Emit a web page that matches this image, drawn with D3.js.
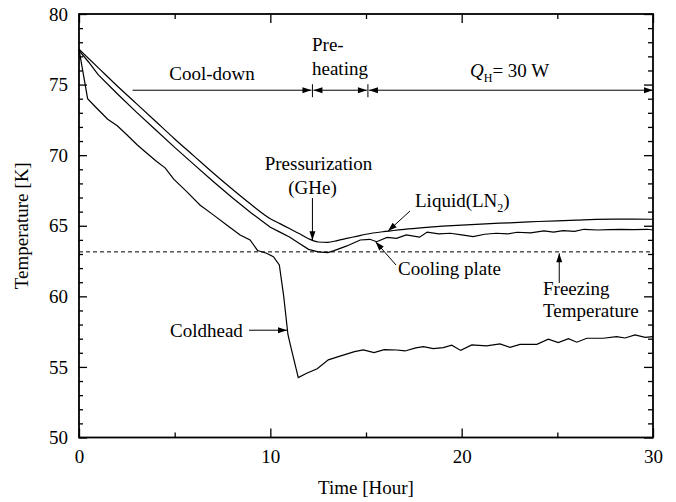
<!DOCTYPE html>
<html>
<head>
<meta charset="utf-8">
<script src="https://cdn.jsdelivr.net/npm/d3@7"></script>
<style>
  html, body { margin: 0; padding: 0; background: #fff; }
  svg text { font-family: "Liberation Serif", "DejaVu Serif", serif; font-size: 19px; fill: #000; }
</style>
</head>
<body>
<svg id="chart" width="676" height="502" font-family="Liberation Serif, DejaVu Serif, serif"></svg>
<script>
// Liquid nitrogen temperature (K) vs time (hours)
const liquidHours = [0, 1, 2, 3, 4, 5, 6, 7, 8, 9, 10, 10.5, 11, 11.5, 12, 12.5, 13, 13.5, 14, 14.5, 15, 16, 17, 18, 19, 20, 21, 22, 23, 24, 25, 26, 27, 28, 29, 30];
const liquidK = [77.5, 76.2, 74.9, 73.65, 72.4, 71.15, 69.95, 68.75, 67.6, 66.5, 65.5, 65.15, 64.8, 64.45, 64.08, 63.85, 63.82, 63.95, 64.1, 64.25, 64.4, 64.6, 64.75, 64.87, 64.97, 65.05, 65.12, 65.18, 65.24, 65.3, 65.35, 65.4, 65.45, 65.47, 65.47, 65.46];

// Cooling plate temperature
const plateHours = [0, 0.5, 1, 2, 3, 4, 5, 6, 7, 8, 9, 10, 10.5, 11, 11.5, 12, 12.5, 13, 13.3, 14, 14.7, 15.2, 15.56, 16.1, 16.6, 17.1, 17.8, 18.2, 18.8, 19.4, 20, 20.6, 21.2, 21.8, 22.4, 22.9, 23.6, 24.3, 24.8, 25.3, 25.9, 26.4, 27.1, 27.7, 28.3, 29, 29.7, 30];
const plateK = [77.4, 76.6, 75.7, 74.35, 73.05, 71.8, 70.55, 69.35, 68.15, 67.0, 65.9, 64.9, 64.55, 64.2, 63.76, 63.33, 63.15, 63.1, 63.22, 63.57, 63.99, 64.04, 63.87, 64.18, 64.11, 64.35, 64.19, 64.55, 64.42, 64.47, 64.35, 64.23, 64.4, 64.47, 64.42, 64.54, 64.5, 64.63, 64.55, 64.65, 64.6, 64.75, 64.7, 64.72, 64.75, 64.72, 64.75, 64.7];

// Coldhead temperature
const coldHours = [0, 0.45, 0.84, 1.5, 2.0, 2.5, 3.05, 3.58, 4.06, 4.5, 4.95, 5.63, 6.32, 7.02, 7.72, 8.42, 8.94, 9.33, 9.8, 10.16, 10.47, 10.7, 10.92, 11.03, 11.46, 11.9, 12.45, 13.03, 13.64, 14.4, 14.86, 15.42, 15.95, 16.6, 17.04, 17.6, 18.0, 18.52, 19.04, 19.48, 19.95, 20.53, 21.3, 22.0, 22.53, 23.05, 23.93, 24.53, 25.05, 25.58, 26.02, 26.54, 27.4, 28.1, 28.54, 29.06, 29.59, 30];
const coldK = [77.5, 74.0, 73.45, 72.55, 72.08, 71.45, 70.72, 70.1, 69.55, 69.1, 68.3, 67.42, 66.47, 65.77, 65.06, 64.35, 63.99, 63.25, 63.05, 62.81, 62.22, 60.0, 57.3, 56.65, 54.24, 54.55, 54.87, 55.5, 55.76, 56.08, 56.2, 56.01, 56.22, 56.2, 56.13, 56.35, 56.44, 56.29, 56.37, 56.54, 56.17, 56.56, 56.49, 56.63, 56.39, 56.6, 56.6, 56.96, 56.72, 57.0, 56.75, 57.03, 57.03, 57.15, 57.05, 57.27, 57.1, 57.15];

// Nitrogen freezing point (K)
const freezingK = 63.15;

// Operating phases: cool-down, pre-heating, heater on
const phaseBounds = [2.8, 12.2, 15.1, 30];
const phaseLevel = 74.6;

const xMajorTicks = [0, 10, 20, 30];
const xMinorTicks = [5, 15, 25];
const yMajorTicks = [50, 55, 60, 65, 70, 75, 80];
const yMinorTicks = d3.range(50, 81).filter(v => v % 5 !== 0);

const FONT = "'Liberation Serif', 'DejaVu Serif', serif";

const svg = d3.select("#chart");
const x = d3.scaleLinear().domain([0, 30]).range([79, 653]);
const y = d3.scaleLinear().domain([50, 80]).range([437.5, 14]);
const X0 = x.range()[0], X1 = x.range()[1], Y0 = y.range()[0], Y1 = y.range()[1];

svg.append("rect").attr("width", 676).attr("height", 502).attr("fill", "#fff");

// Arrowhead marker
const defs = svg.append("defs");
defs.append("marker")
  .attr("id", "head")
  .attr("markerUnits", "userSpaceOnUse")
  .attr("viewBox", "-10 -5 10 10")
  .attr("refX", 0).attr("refY", 0)
  .attr("markerWidth", 10).attr("markerHeight", 10)
  .attr("orient", "auto-start-reverse")
  .append("path").attr("d", "M0,0 L-9,-3 L-9,3 Z").attr("fill", "#000");

// Axes with inward ticks
function styleAxis(g) {
  g.selectAll(".domain").remove();
  g.selectAll(".tick line").attr("stroke", "#000").attr("stroke-width", 1.3);
  g.attr("font-family", FONT).attr("font-size", 19);
  g.selectAll(".tick text").style("font-family", FONT).style("font-size", "19px").attr("fill", "#000");
}

svg.append("g").attr("transform", `translate(0,${Y0})`)
  .call(d3.axisBottom(x).tickValues(xMajorTicks).tickSize(-9).tickPadding(12).tickFormat(d3.format("d")))
  .call(styleAxis);
svg.append("g").attr("transform", `translate(0,${Y0})`)
  .call(d3.axisBottom(x).tickValues(xMinorTicks).tickSize(-5).tickFormat(""))
  .call(styleAxis);
svg.append("g").attr("transform", `translate(0,${Y1})`)
  .call(d3.axisTop(x).tickValues(xMajorTicks).tickSize(-9).tickFormat(""))
  .call(styleAxis);
svg.append("g").attr("transform", `translate(0,${Y1})`)
  .call(d3.axisTop(x).tickValues(xMinorTicks).tickSize(-5).tickFormat(""))
  .call(styleAxis);

svg.append("g").attr("transform", `translate(${X0},0)`)
  .call(d3.axisLeft(y).tickValues(yMajorTicks).tickSize(-8).tickPadding(11).tickFormat(d3.format("d")))
  .call(styleAxis);
svg.append("g").attr("transform", `translate(${X0},0)`)
  .call(d3.axisLeft(y).tickValues(yMinorTicks).tickSize(-4).tickFormat(""))
  .call(styleAxis);
svg.append("g").attr("transform", `translate(${X1},0)`)
  .call(d3.axisRight(y).tickValues(yMajorTicks).tickSize(-9).tickFormat(""))
  .call(styleAxis);
svg.append("g").attr("transform", `translate(${X1},0)`)
  .call(d3.axisRight(y).tickValues(yMinorTicks).tickSize(-5).tickFormat(""))
  .call(styleAxis);

function label(xp, yp, str, anchor) {
  return svg.append("text").attr("x", xp).attr("y", yp)
    .attr("text-anchor", anchor || "start")
    .style("font-family", FONT).style("font-size", "19px")
    .text(str);
}

// Axis titles
label((X0 + X1) / 2, 494, "Time [Hour]", "middle");
label(0, 0, "Temperature [K]", "middle")
  .attr("transform", `translate(28,${(Y0 + Y1) / 2}) rotate(-90)`);

// Freezing temperature reference
svg.append("line")
  .attr("x1", X0).attr("x2", X1).attr("y1", y(freezingK)).attr("y2", y(freezingK))
  .attr("stroke", "#000").attr("stroke-width", 1).attr("stroke-dasharray", "4,3");

// Temperature curves
function series(hours, vals) { return hours.map((h, i) => [h, vals[i]]); }
const lineLin = d3.line().x(d => x(d[0])).y(d => y(d[1]));
const lineSmooth = d3.line().x(d => x(d[0])).y(d => y(d[1])).curve(d3.curveMonotoneX);

svg.append("path").datum(series(liquidHours, liquidK)).attr("d", lineSmooth)
  .attr("fill", "none").attr("stroke", "#000").attr("stroke-width", 1.2);
svg.append("path").datum(series(plateHours, plateK)).attr("d", lineLin)
  .attr("fill", "none").attr("stroke", "#000").attr("stroke-width", 1.2);
svg.append("path").datum(series(coldHours, coldK)).attr("d", lineLin)
  .attr("fill", "none").attr("stroke", "#000").attr("stroke-width", 1.2);

// Frame
svg.append("rect").attr("x", X0).attr("y", Y1).attr("width", X1 - X0).attr("height", Y0 - Y1)
  .attr("fill", "none").attr("stroke", "#000").attr("stroke-width", 1.8);

// Arrow helper
function arrow(x1, y1, x2, y2, both) {
  const l = svg.append("line").attr("x1", x1).attr("y1", y1).attr("x2", x2).attr("y2", y2)
    .attr("stroke", "#000").attr("stroke-width", 1).attr("marker-end", "url(#head)");
  if (both) l.attr("marker-start", "url(#head)");
  return l;
}

// Phase arrows
const py = y(phaseLevel);
arrow(x(phaseBounds[0]), py, x(phaseBounds[1]) - 1, py, false);
arrow(x(phaseBounds[1]) + 1, py, x(phaseBounds[2]) - 1, py, true);
arrow(x(phaseBounds[2]) + 1, py, x(phaseBounds[3]), py, true);
[phaseBounds[1], phaseBounds[2]].forEach(b => {
  svg.append("line").attr("x1", x(b)).attr("x2", x(b)).attr("y1", py - 6).attr("y2", py + 7)
    .attr("stroke", "#000").attr("stroke-width", 1);
});

label(212, 79.5, "Cool-down", "middle");
label(312, 51, "Pre-");
label(312, 75, "heating");
const qt = label(470, 77, "");
qt.append("tspan").attr("font-style", "italic").text("Q");
qt.append("tspan").attr("dy", 5).style("font-size", "12px").text("H");
qt.append("tspan").attr("dy", -5).text("= 30 W");

// Pressurization marker
label(318.5, 170, "Pressurization", "middle");
label(312.5, 194, "(GHe)", "middle");
arrow(x(12.2), 198, x(12.2), y(63.98), false);

// Liquid label
const lt = label(415, 207, "");
lt.append("tspan").text("Liquid(LN");
lt.append("tspan").attr("dy", 5).style("font-size", "12px").text("2");
lt.append("tspan").attr("dy", -5).text(")");
arrow(410, 211, x(16.15), y(64.62), false);

// Cooling plate label
label(398, 275, "Cooling plate");
arrow(396, 265, x(15.5), y(63.87), false);

// Freezing temperature label
label(543, 295, "Freezing");
label(543, 317, "Temperature");
arrow(x(25.1), 283, x(25.1), y(freezingK) + 1.5, false);

// Coldhead label
label(170, 337, "Coldhead");
arrow(249, y(57.6), x(10.87), y(57.6), false);
</script>
</body>
</html>
